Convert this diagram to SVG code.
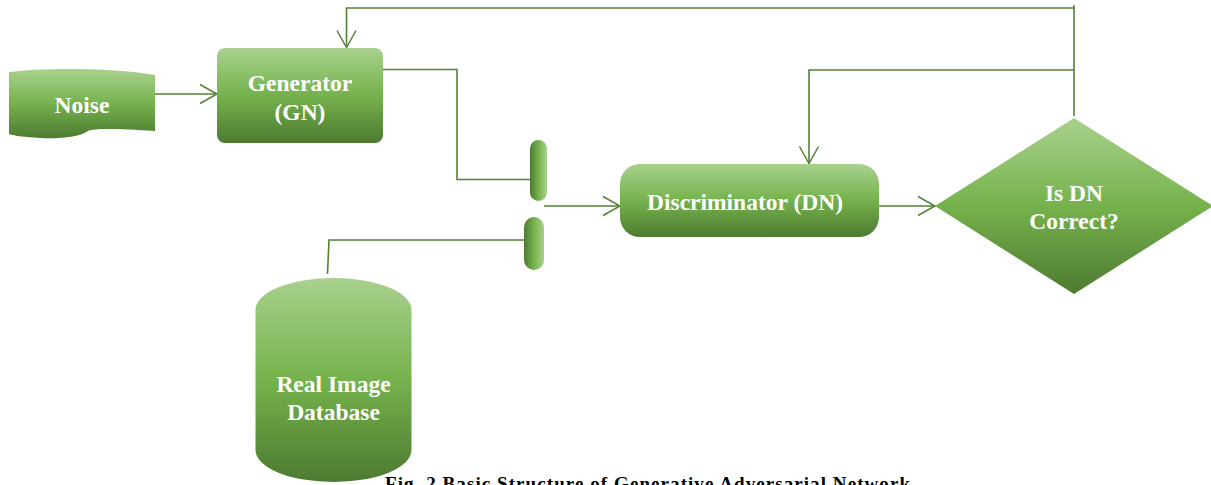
<svg xmlns="http://www.w3.org/2000/svg" width="1211" height="485" viewBox="0 0 1211 485">
<defs>
<linearGradient id="gv" x1="0" y1="0" x2="0" y2="1">
<stop offset="0" stop-color="#a9d18e"/>
<stop offset="0.5" stop-color="#75b24c"/>
<stop offset="1" stop-color="#4e7a31"/>
</linearGradient>
<linearGradient id="gh" x1="0" y1="0" x2="1" y2="0">
<stop offset="0" stop-color="#4e7a31"/>
<stop offset="0.5" stop-color="#75b24c"/>
<stop offset="1" stop-color="#a9d18e"/>
</linearGradient>
<marker id="arr" markerUnits="userSpaceOnUse" markerWidth="20" markerHeight="22" viewBox="0 0 20 22" refX="18" refY="11" orient="auto">
<path d="M1,1.5 L18,11 L1,20.5" fill="none" stroke="#548235" stroke-width="1.5"/>
</marker>
<style>
.shape{fill:url(#gv);}
.pill{fill:url(#gh);}
.lbl{font-family:"Liberation Serif","Times New Roman",serif;font-weight:bold;font-size:23.5px;fill:#ffffff;text-anchor:middle;}
.cap{font-family:"Liberation Serif","Times New Roman",serif;font-weight:bold;font-size:19px;fill:#000000;}
.conn{fill:none;stroke:#548235;stroke-width:1.6;}
</style>
</defs>
<g id="connectors">
<path class="conn" d="M155,94 H217" marker-end="url(#arr)"/>
<path class="conn" d="M383,69.5 H457 V179.5 H530"/>
<path class="conn" d="M327.5,274 L329,240 H524"/>
<path class="conn" d="M544,206 H620" marker-end="url(#arr)"/>
<path class="conn" d="M879,206 H935" marker-end="url(#arr)"/>
<path class="conn" d="M1074,116 V5"/>
<path class="conn" d="M1074,8 H346.5 V47.5" marker-end="url(#arr)"/>
<path class="conn" d="M1074,70 H809 V163.5" marker-end="url(#arr)"/>
</g>
<g id="noise">
<path class="shape" d="M9,72 C40,68 110,67 155,75 L155,131 C120,129 95,128 88,131 C80,137 60,139 40,138 C25,137 15,136 9,134 Z"/>
<text class="lbl" x="82" y="112.5">Noise</text>
</g>
<g id="generator">
<rect class="shape" x="217" y="48" width="166" height="95" rx="8" ry="8"/>
<text class="lbl" x="300" y="91">Generator</text>
<text class="lbl" x="300" y="120">(GN)</text>
</g>
<g id="junction-top">
<rect class="pill" x="530" y="140" width="17" height="61" rx="8.5" ry="8.5"/>
</g>
<g id="junction-bottom">
<rect class="pill" x="524" y="217" width="20" height="53" rx="10" ry="10"/>
</g>
<g id="discriminator">
<rect class="shape" x="620" y="164" width="259" height="73" rx="20" ry="20"/>
<text class="lbl" x="745" y="210">Discriminator (DN)</text>
</g>
<g id="decision">
<polygon class="shape" points="1074,118 1213,206 1074,294 935,206"/>
<text class="lbl" x="1074" y="201">Is DN</text>
<text class="lbl" x="1074" y="229">Correct?</text>
</g>
<g id="database">
<path class="shape" d="M255.5,310 A78,32 0 0 1 411.5,310 L411.5,450 A78,32 0 0 1 255.5,450 Z"/>
<text class="lbl" x="333.5" y="392">Real Image</text>
<text class="lbl" x="333.5" y="420">Database</text>
</g>
<text class="cap" x="385" y="490" textLength="525">Fig. 2 Basic Structure of Generative Adversarial Network</text>
</svg>
